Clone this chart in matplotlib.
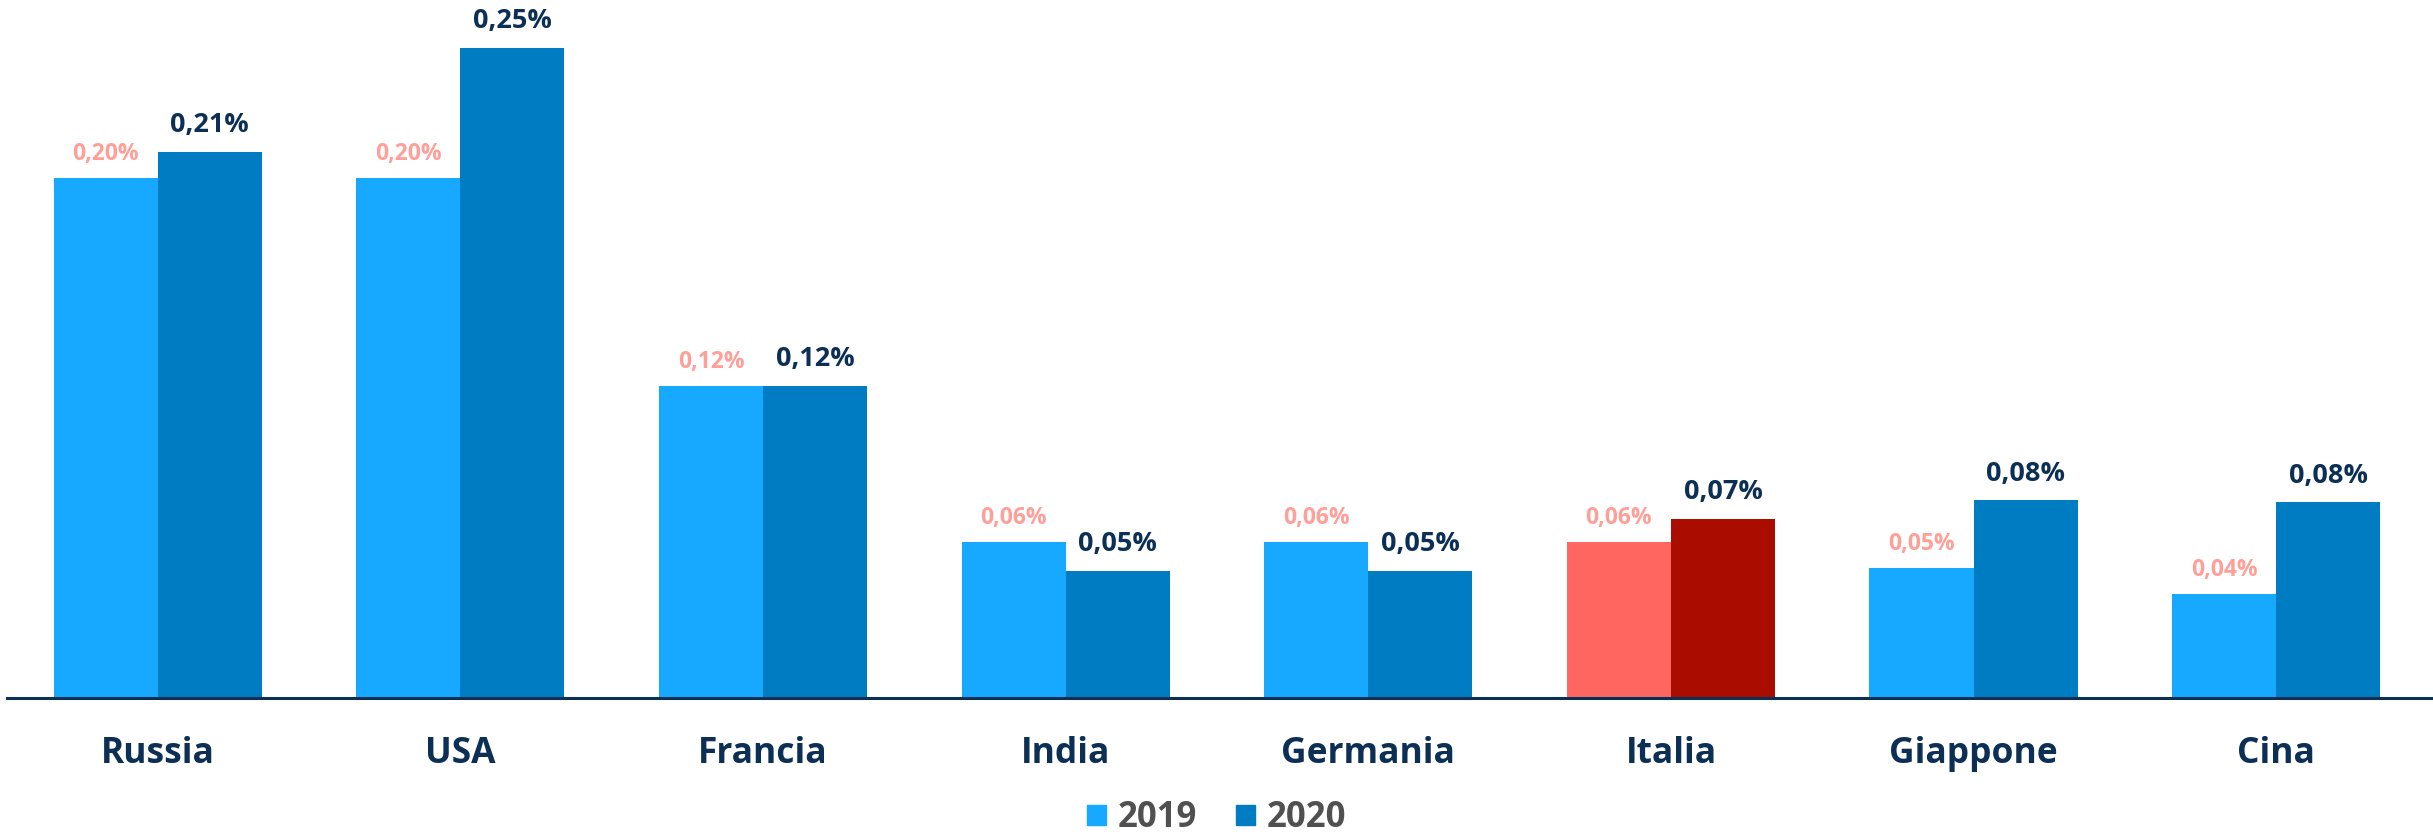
import matplotlib.pyplot as plt
import numpy as np
from matplotlib.patches import Patch

plt.rcParams["font.family"] = ["Open Sans", "DejaVu Sans"]

countries = ["Russia", "USA", "Francia", "India", "Germania", "Italia", "Giappone", "Cina"]
v2019 = [0.200, 0.200, 0.120, 0.060, 0.060, 0.060, 0.050, 0.040]
v2020 = [0.210, 0.250, 0.120, 0.049, 0.049, 0.069, 0.076, 0.0753]
series = ["2019", "2020"]

C19 = "#17a9ff"
C20 = "#007dc2"
IT19 = "#ff6660"
IT20 = "#aa0c00"
LBL19 = "#ff9f98"
NAVY = "#0c2f55"


def fmt(v):
    return f"{v:.2f}".replace(".", ",") + "%"


fig = plt.figure(figsize=(24.33, 8.35), dpi=100)
ax = fig.add_axes([0.003, 0.164, 0.997, 0.835])

x = np.arange(len(countries))
w = 0.344
col19 = [IT19 if c == "Italia" else C19 for c in countries]
col20 = [IT20 if c == "Italia" else C20 for c in countries]
ax.bar(x - w / 2, v2019, w, color=col19)
ax.bar(x + w / 2, v2020, w, color=col20)

for xi, v in zip(x, v2019):
    ax.annotate(fmt(v), (xi - w / 2, v), xytext=(0, 17), textcoords="offset points",
                ha="center", va="center", fontsize=16.5, color=LBL19, fontweight="bold")
for xi, v in zip(x, v2020):
    ax.annotate(fmt(v), (xi + w / 2, v), xytext=(0, 19), textcoords="offset points",
                ha="center", va="center", fontsize=19.5, color=NAVY, fontweight="bold")

ax.set_xlim(-0.497, 7.518)
ax.set_ylim(0, 0.268)
ax.set_xticks(x)
ax.set_xticklabels(countries, fontsize=25.5, fontweight="bold", color=NAVY)
ax.tick_params(axis="x", length=0, pad=27)
ax.set_yticks([])
for s in ["top", "right", "left"]:
    ax.spines[s].set_visible(False)
ax.spines["bottom"].set_color(NAVY)
ax.spines["bottom"].set_linewidth(2.2)

handles = [Patch(color=C19), Patch(color=C20)]
leg = fig.legend(handles, series, loc="center", bbox_to_anchor=(0.5, 0.02), ncol=2,
                 frameon=False, handlelength=0.55, handleheight=0.55, handletextpad=0.35,
                 columnspacing=1.1, prop={"size": 25, "weight": "bold"})
for t in leg.get_texts():
    t.set_color("#505050")

fig.savefig("out.png", dpi=100)
